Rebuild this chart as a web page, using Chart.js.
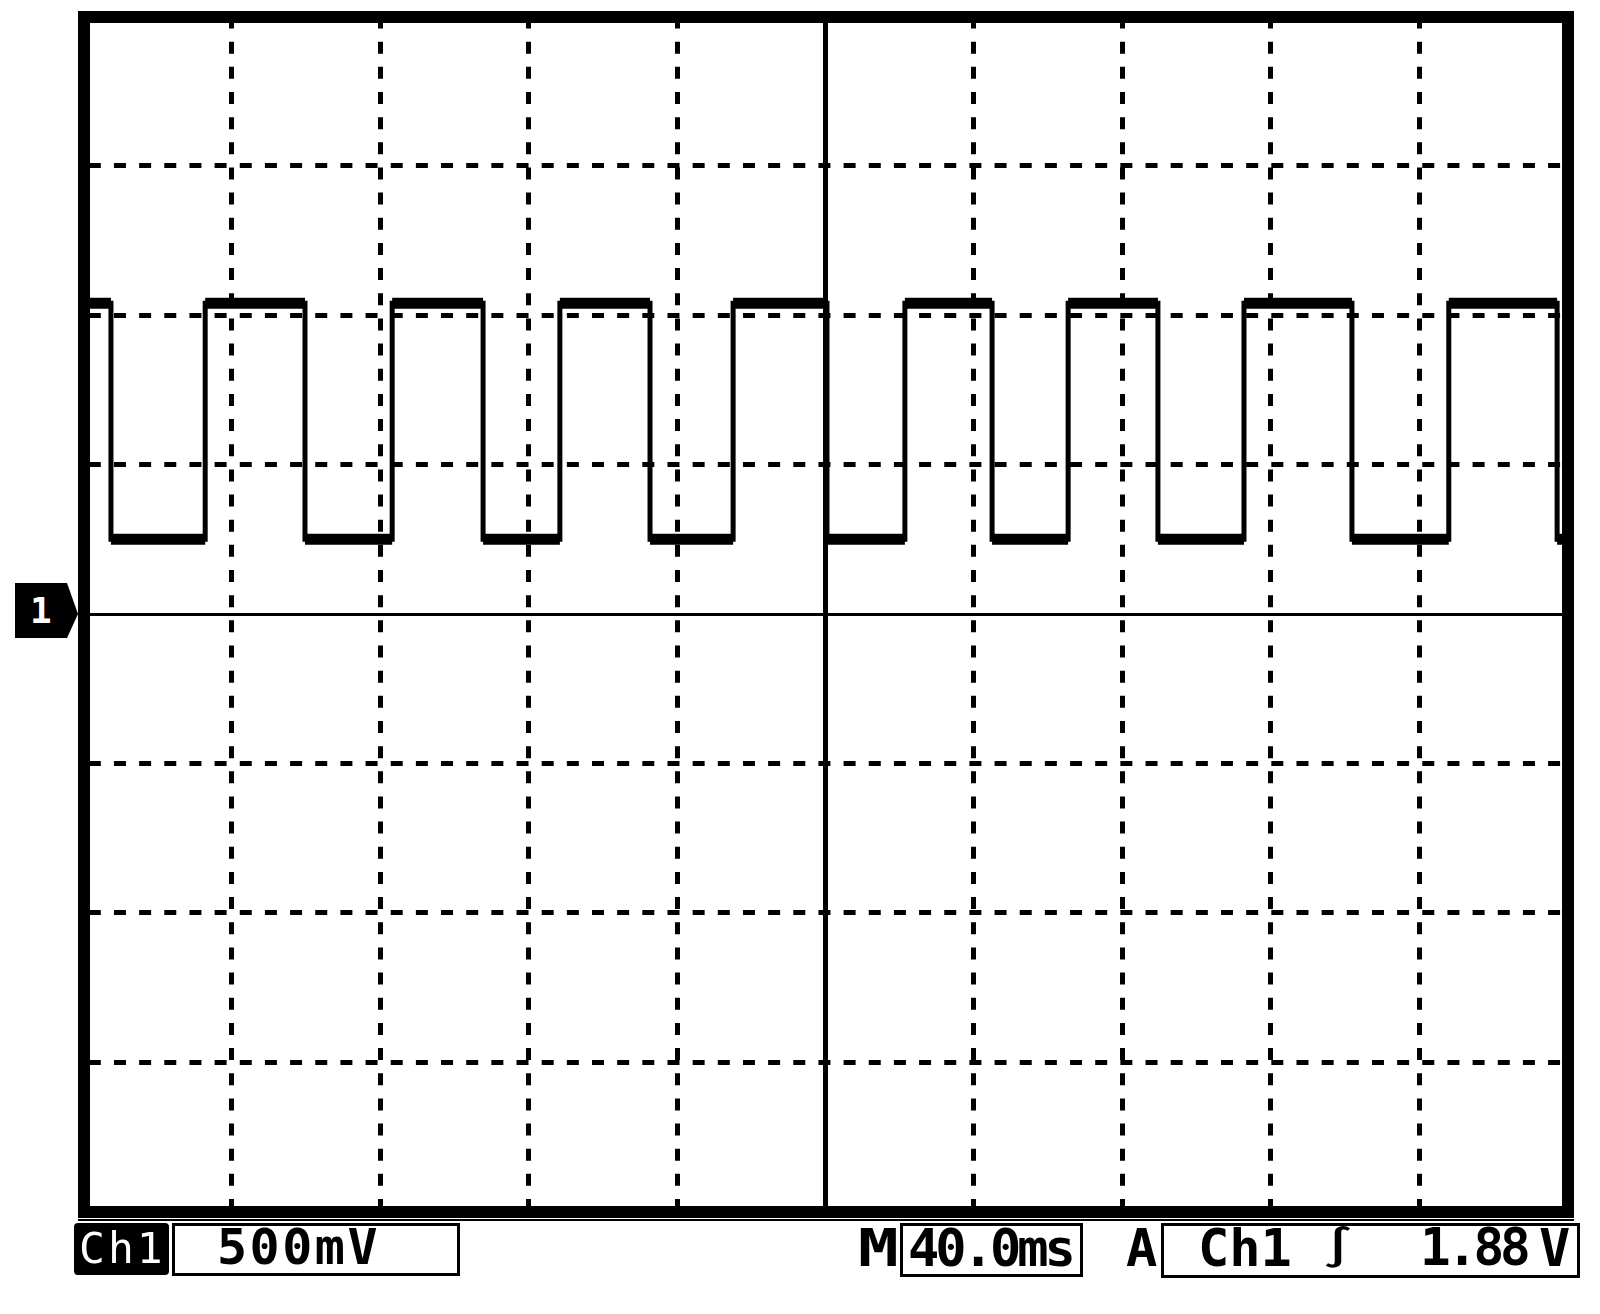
<!DOCTYPE html>
<html>
<head>
<meta charset="utf-8">
<script src="https://cdn.jsdelivr.net/npm/chart.js@4.4.1/dist/chart.umd.min.js"></script>
<style>
  body { margin: 0; background: #fff; }
  #wrap { position: relative; width: 1600px; height: 1314px; overflow: hidden; }
  #scope { position: absolute; left: 0; top: 0; }
  .lbl { position: absolute; font-family: "DejaVu Sans Mono", monospace; font-weight: bold; color: #000; white-space: nowrap; line-height: 1; }
  .box { position: absolute; border: 3px solid #000; box-sizing: border-box; }
  #marker {
    position: absolute; left: 15px; width: 63px; height: 55px; background: #000; color: #fff;
    clip-path: polygon(0 0, 52px 0, 63px 31px, 52px 55px, 0 55px);
    font-family: "DejaVu Sans Mono", monospace; font-weight: bold; font-size: 36px; line-height: 55px;
  }
  #marker span { position: absolute; left: 15px; top: 0; }
  #baseLine { position: absolute; left: 78px; top: 1219px; width: 1496px; height: 2px; background: #000; }
</style>
</head>
<body>
<div id="wrap">
  <canvas id="scope" width="1600" height="1314"></canvas>
  <div id="marker"><span>1</span></div>
  <div id="baseLine"></div>

  <div style="position:absolute;left:74px;top:1223px;width:95px;height:52px;background:#000;border-radius:4px;"></div>
  <div class="lbl" style="left:79px;top:1227px;font-size:43px;font-weight:normal;color:#fff;letter-spacing:3px;">Ch1</div>

  <div class="box" style="left:172px;top:1223px;width:288px;height:53px;"></div>
  <div class="lbl" style="left:217px;top:1222px;font-size:50px;letter-spacing:2.5px;">500mV</div>

  <div class="lbl" style="left:858px;top:1222px;font-size:52px;transform:scaleX(1.3);transform-origin:left top;">M</div>
  <div class="box" style="left:900px;top:1223px;width:183px;height:54px;"></div>
  <div class="lbl" style="left:908px;top:1222px;font-size:52px;letter-spacing:-4px;">40.0ms</div>

  <div class="lbl" style="left:1126px;top:1222px;font-size:52px;">A</div>
  <div class="box" style="left:1161px;top:1223px;width:419px;height:55px;"></div>
  <div class="lbl" style="left:1198px;top:1222px;font-size:52px;">Ch1</div>
  <div class="lbl" style="left:1322px;top:1228px;font-size:38px;transform:scaleX(1.4);transform-origin:left top;">∫</div>
  <div class="lbl" style="left:1420px;top:1222px;font-size:51px;letter-spacing:-4px;">1.88</div>
  <div class="lbl" style="left:1539px;top:1222px;font-size:52px;">V</div>
</div>

<script>
// scope settings: 40 ms/div over 10 divs, 500 mV/div over 8 divs
const msPerDiv = 40;
const xDivs = 10;
const voltsPerDiv = 0.5;
const yDivs = 8;

// signal: time of each edge (ms) and the level after it (V)
const startLevelV = 1.04;
const edgeTimesMs = [7.4, 32.8, 59.7, 83.2, 107.7, 128.4, 152.7, 175.1, 200.4,
                     221.4, 244.9, 265.4, 289.6, 312.8, 341.9, 368.0, 397.2];
const levelAfterEdgeV = [0.25, 1.04, 0.25, 1.04, 0.25, 1.04, 0.25, 1.04, 0.25,
                         1.04, 0.25, 1.04, 0.25, 1.04, 0.25, 1.04, 0.25];

const xMax = msPerDiv * xDivs;
const yMax = voltsPerDiv * yDivs / 2;
const centerMs = xMax / 2;

// build the step trace from the edges
let trace = [{x: 0, y: startLevelV}];
let level = startLevelV;
edgeTimesMs.forEach((t, i) => {
    trace.push({x: t, y: level});
    level = levelAfterEdgeV[i];
    trace.push({x: t, y: level});
});
trace.push({x: xMax, y: level});

const gridDash = [12, 13.16];
const isEdge = c => c.p0.parsed.x === c.p1.parsed.x;

// keeps the channel 1 marker on the 0 V line
const markerPlugin = {
    id: 'groundMarker',
    afterRender(chart) {
        let py = chart.scales.y.getPixelForValue(0);
        document.getElementById('marker').style.top = (py - 31) + 'px';
    }
};

let ctx = document.getElementById('scope').getContext('2d');
let scopeChart = new Chart(ctx, {
    type: 'line',
    data: {
        datasets: [{
            label: 'Ch1',
            data: trace,
            borderColor: '#000',
            borderWidth: 11,
            borderCapStyle: 'butt',
            borderJoinStyle: 'miter',
            pointRadius: 0,
            fill: false,
            segment: {
                borderWidth: c => isEdge(c) ? 5 : 11,
                borderCapStyle: c => isEdge(c) ? 'square' : 'butt'
            }
        }]
    },
    options: {
        responsive: false,
        animation: false,
        events: [],
        layout: { padding: { left: 83.5, right: 32.5, top: 16.5, bottom: 102.5 } },
        plugins: {
            legend: { display: false },
            tooltip: { enabled: false }
        },
        scales: {
            x: {
                type: 'linear', position: 'bottom', min: 0, max: xMax,
                ticks: { display: false, stepSize: msPerDiv },
                grid: {
                    color: '#000', drawTicks: false,
                    lineWidth: 5
                },
                border: {
                    display: true, color: '#000', width: 12, z: 1,
                    dash: c => c.tick && c.tick.value === centerMs ? [] : gridDash,
                    dashOffset: 0
                }
            },
            y: {
                type: 'linear', position: 'left', min: -yMax, max: yMax,
                ticks: { display: false, stepSize: voltsPerDiv },
                grid: {
                    color: '#000', drawTicks: false,
                    lineWidth: c => c.tick && c.tick.value === 0 ? 3 : 5
                },
                border: {
                    display: true, color: '#000', width: 12, z: 1,
                    dash: c => c.tick && c.tick.value === 0 ? [] : gridDash,
                    dashOffset: 1.2
                }
            },
            xTop: {
                type: 'linear', position: 'top', min: 0, max: xMax,
                ticks: { display: false },
                grid: { display: false, drawTicks: false, lineWidth: 12 },
                border: { display: true, color: '#000', width: 12, z: 1 }
            },
            yRight: {
                type: 'linear', position: 'right', min: -yMax, max: yMax,
                ticks: { display: false },
                grid: { display: false, drawTicks: false, lineWidth: 12 },
                border: { display: true, color: '#000', width: 12, z: 1 }
            }
        }
    },
    plugins: [markerPlugin]
});
</script>
</body>
</html>
